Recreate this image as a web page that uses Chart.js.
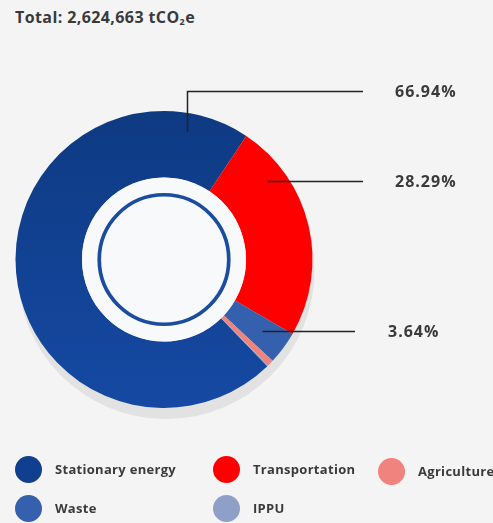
<!DOCTYPE html>
<html>
<head>
<meta charset="utf-8">
<script src="https://cdn.jsdelivr.net/npm/chart.js@4"></script>
<style>
    html, body { margin: 0; padding: 0; background: #f4f4f4; }
    body { width: 493px; height: 523px; position: relative; overflow: hidden; font-family: 'Open Sans', sans-serif; color: #3a3a3a; }
    #chart { position: absolute; left: 0; top: 0; }
    .title { position: absolute; left: 15px; top: 6px; font-size: 16px; font-weight: 700; letter-spacing: 0.4px; white-space: nowrap; }
    .title sub { font-size: 9px; vertical-align: -2px; }
    .legend-item { position: absolute; display: flex; align-items: center; font-size: 13px; font-weight: 700; letter-spacing: 0.3px; white-space: nowrap; }
    .legend-item .dot { width: 27px; height: 27px; border-radius: 50%; margin-right: 13px; flex: none; }
</style>
</head>
<body>
<div class="title">Total: 2,624,663 tCO<sub>2</sub>e</div>
<canvas id="chart" width="493" height="523"></canvas>
<div id="legend"></div>
<script>
// ring order, clockwise from the red slice backwards
const categories = ['Stationary energy', 'Transportation', 'Waste', 'Agriculture', 'IPPU']
// share of the ring as drawn (%)
const values = [71.6, 24.0, 3.6, 0.7, 0.1]
const colors = ['#113f8f', '#ff0000', '#3560ad', '#f0837e', '#8fa0c8']
// percentages printed next to the ring
const shownLabels = ['66.94%', '28.29%', '3.64%']
const legendOrder = ['Stationary energy', 'Transportation', 'Agriculture', 'Waste', 'IPPU']

// where the leader lines start on a slice (t = along the arc, rf = across the ring)
const leaders = [
    { slice: 0, t: 0.909, rf: 0.72, elbowY: 91.5, endX: 363, textX: 395 },
    { slice: 1, t: 0.22, rf: 0.71, endX: 363, textX: 395 },
    { slice: 2, t: 0.45, rf: 0.59, endX: 355, textX: 388 }
]

// legend layout (3 columns)
const legendPos = {
    'Stationary energy': [15, 469],
    'Transportation': [213, 469],
    'Agriculture': [378, 471],
    'Waste': [15, 508],
    'IPPU': [213, 508]
}

const legendEl = document.getElementById('legend')
legendOrder.forEach(name => {
    const item = document.createElement('div')
    item.className = 'legend-item'
    item.style.left = legendPos[name][0] + 'px'
    item.style.top = (legendPos[name][1] - 14) + 'px'
    item.style.height = '28px'
    const dot = document.createElement('span')
    dot.className = 'dot'
    dot.style.background = colors[categories.indexOf(name)]
    item.appendChild(dot)
    item.appendChild(document.createTextNode(name))
    legendEl.appendChild(item)
})

const decor = {
    id: 'decor',
    beforeDatasetsDraw(chart) {
        const arc = chart.getDatasetMeta(0).data[0]
        const ctx = chart.ctx
        ctx.save()
        ctx.fillStyle = '#e2e2e2'
        ctx.beginPath()
        ctx.arc(arc.x + 2, arc.y + 11, arc.outerRadius, 0, Math.PI * 2)
        ctx.fill()
        ctx.restore()
    },
    afterDatasetsDraw(chart) {
        const meta = chart.getDatasetMeta(0)
        const first = meta.data[0]
        const ctx = chart.ctx
        const cx = first.x, cy = first.y
        ctx.save()
        // inner disc
        ctx.fillStyle = '#f8f9fb'
        ctx.beginPath()
        ctx.arc(cx, cy, first.innerRadius, 0, Math.PI * 2)
        ctx.fill()
        // inner blue ring
        ctx.strokeStyle = '#1a4c9f'
        ctx.lineWidth = 3.7
        ctx.beginPath()
        ctx.arc(cx, cy, first.innerRadius * 0.79, 0, Math.PI * 2)
        ctx.stroke()

        // leader lines and labels
        ctx.strokeStyle = '#222'
        ctx.lineWidth = 1.5
        ctx.fillStyle = '#3a3a3a'
        ctx.font = "700 16px 'Open Sans', sans-serif"
        ctx.letterSpacing = '1px'
        ctx.textBaseline = 'middle'
        leaders.forEach((l, i) => {
            const a = meta.data[l.slice]
            const ang = a.startAngle + l.t * (a.endAngle - a.startAngle)
            const r = a.innerRadius + l.rf * (a.outerRadius - a.innerRadius)
            const x0 = Math.round(cx + r * Math.cos(ang)) + 0.5
            const y0 = cy + r * Math.sin(ang)
            const y1 = l.elbowY !== undefined ? l.elbowY : Math.round(y0) + 0.5
            ctx.beginPath()
            if (l.elbowY !== undefined) {
                ctx.moveTo(x0, y0)
                ctx.lineTo(x0, y1)
            } else {
                ctx.moveTo(x0, y1)
            }
            ctx.lineTo(l.endX, y1)
            ctx.stroke()
            ctx.fillText(shownLabels[i], l.textX, y1 + 1)
        })
        ctx.restore()
    }
}

const ctx = document.getElementById('chart').getContext('2d')

new Chart(ctx, {
    type: 'doughnut',
    data: {
        labels: categories,
        datasets: [{
            data: values,
            backgroundColor: (c) => {
                if (c.dataIndex !== 0) return colors[c.dataIndex]
                const area = c.chart.chartArea
                if (!area) return colors[0]
                const g = c.chart.ctx.createLinearGradient(0, area.top, 0, area.bottom)
                g.addColorStop(0, '#0e3a82')
                g.addColorStop(1, '#1549a3')
                return g
            },
            borderWidth: 0,
            hoverOffset: 0
        }]
    },
    options: {
        responsive: false,
        animation: false,
        devicePixelRatio: 1,
        cutout: '55.2%',
        rotation: -224.1,
        layout: {
            padding: { left: 15.5, top: 111, right: 180.5, bottom: 115 }
        },
        plugins: {
            legend: { display: false },
            tooltip: { enabled: false }
        },
        events: []
    },
    plugins: [decor]
});
</script>
</body>
</html>
